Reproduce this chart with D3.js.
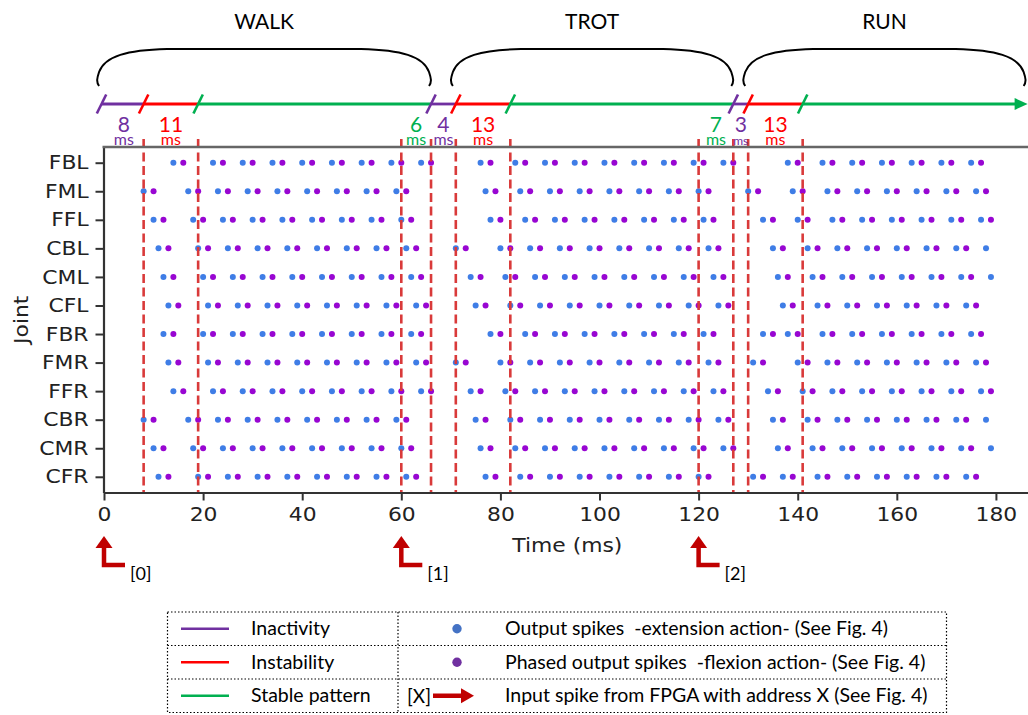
<!DOCTYPE html>
<html>
<head>
<meta charset="utf-8">
<script src="https://cdn.jsdelivr.net/npm/d3@7"></script>
<style>
  body { margin: 0; background: #fff; }
  svg text { font-family: "DejaVu Sans", sans-serif; }
  .note { font-family: Lato, "Liberation Sans", sans-serif; white-space: pre; }
</style>
</head>
<body>
<div id="chart"></div>
<script>
// joints, top row first
var joints = ["FBL", "FML", "FFL", "CBL", "CML", "CFL", "FBR", "FMR", "FFR", "CBR", "CMR", "CFR"]

// output spike times (ms), one list per joint, same order as joints
var extensionSpikes = [
  [14,22,28,34,40,46,52,58,64,76,83,89,95,101,107,113,119,125,138,145,151,157,163,169,175],
  [8,17,23,29,35,41,47,53,59,77,84,90,96,102,108,114,120,130,139,146,152,158,164,170,176],
  [10,18,24,30,36,42,48,54,60,78,85,91,97,103,109,115,121,133,140,147,153,159,165,171,177],
  [11,19,25,31,37,43,49,55,61,71,80,86,92,98,104,110,116,122,135,142,148,154,160,166,172,178],
  [12,20,26,32,38,44,50,56,62,74,81,87,93,99,105,111,117,123,136,143,149,155,161,167,173,179],
  [13,21,27,33,39,45,51,57,63,75,82,88,94,100,106,112,118,124,137,144,150,156,162,168,174],
  [12,20,26,32,38,44,50,56,62,78,85,91,97,103,109,115,121,133,138,145,151,157,163,169,175],
  [13,21,27,33,39,45,51,57,63,71,80,86,92,98,104,110,116,122,131,140,146,152,158,164,170,176],
  [14,22,28,34,40,46,52,58,64,74,81,87,93,99,105,111,117,123,134,141,147,153,159,165,171,177],
  [8,17,23,29,35,41,47,53,59,75,82,88,94,100,106,112,118,124,135,142,148,154,160,166,172,178],
  [10,18,24,30,36,42,48,54,60,76,83,89,95,101,107,113,119,125,136,143,149,155,161,167,173,179],
  [11,19,25,31,37,43,49,55,61,77,84,90,96,102,108,114,120,131,137,144,150,156,162,168,174]
]
var flexionSpikes = [
  [16,24,30,36,42,48,54,60,66,78,85,91,97,103,109,115,121,127,140,147,153,159,165,171,177],
  [10,19,25,31,37,43,49,55,61,79,86,92,98,104,110,116,122,132,141,148,154,160,166,172,178],
  [12,20,26,32,38,44,50,56,62,80,87,93,99,105,111,117,123,135,142,149,155,161,167,173,179],
  [13,21,27,33,39,45,51,57,63,73,82,88,94,100,106,112,118,124,137,144,150,156,162,168,174],
  [14,22,28,34,40,46,52,58,64,76,83,89,95,101,107,113,119,125,138,145,151,157,163,169,175],
  [15,23,29,35,41,47,53,59,65,77,84,90,96,102,108,114,120,126,139,146,152,158,164,170,176],
  [14,22,28,34,40,46,52,58,64,80,87,93,99,105,111,117,123,135,140,147,153,159,165,171,177],
  [15,23,29,35,41,47,53,59,65,73,82,88,94,100,106,112,118,124,133,142,148,154,160,166,172,178],
  [16,24,30,36,42,48,54,60,66,76,83,89,95,101,107,113,119,125,136,143,149,155,161,167,173,179],
  [10,19,25,31,37,43,49,55,61,77,84,90,96,102,108,114,120,126,137,144,150,156,162,168,174],
  [12,20,26,32,38,44,50,56,62,78,85,91,97,103,109,115,121,127,138,145,151,157,163,169,175],
  [13,21,27,33,39,45,51,57,63,79,86,92,98,104,110,116,122,133,139,146,152,158,164,170,176]
]

// phase boundaries (dashed lines), ms
var phaseBounds = [8, 19, 60, 66, 71, 82, 120, 127, 130, 141]

// coloured timeline above the plot
var timelineStarts = [-0.5, 8, 19, 66, 71, 82, 127, 130, 141]
var timelineEnds   = [8, 19, 66, 71, 82, 127, 130, 141, 186.4]
var timelineKinds  = ["inactivity", "instability", "stable", "inactivity", "instability", "stable", "inactivity", "instability", "stable"]

// duration labels under the timeline
var durationFrom   = [0, 8, 60, 66, 71, 120, 127, 130]
var durationTo     = [8, 19, 66, 71, 82, 127, 130, 141]
var durationLabels = ["8", "11", "6", "4", "13", "7", "3", "13"]
var durationKinds  = ["inactivity", "instability", "stable", "inactivity", "instability", "stable", "inactivity", "instability"]

var gaits     = ["WALK", "TROT", "RUN"]
var gaitFrom  = [-1.4, 70, 129]
var gaitTo    = [66, 127, 186]

var inputTimes  = [0, 60, 120]
var inputLabels = ["[0]", "[1]", "[2]"]

var xTicks = [0, 20, 40, 60, 80, 100, 120, 140, 160, 180]

var legendStates = ["Inactivity", "Instability", "Stable pattern"]
var legendMarks  = ["Output spikes  -extension action- (See Fig. 4)",
                    "Phased output spikes  -flexion action- (See Fig. 4)",
                    "Input spike from FPGA with address X (See Fig. 4)"]

var kindColor = { inactivity: "#7030a0", instability: "#ff0000", stable: "#00b050" }
var extColor = "#3f7de6", flexColor = "#9806d2"

var width = 1028, height = 715
var plotTop = 147, plotBottom = 492.5, plotLeft = 103.5
var stretch = "scale(1.15,1)"  // axis lettering in the figure is a bit wide

var svg = d3.select("#chart").append("svg")
  .attr("width", width)
  .attr("height", height)

svg.append("rect").attr("width", width).attr("height", height).attr("fill", "#fff")

var x = d3.scaleLinear().domain([0, 187]).range([104, 1030.6])
var y = d3.scaleLinear().domain([-0.55, 11.55]).range([plotTop, plotBottom])

// spikes
var rows = svg.append("g").selectAll("g")
  .data(joints)
  .enter().append("g")

rows.selectAll("circle.ext")
  .data(function(d, i) { return extensionSpikes[i].map(function(t) { return { t: t, i: i } }) })
  .enter().append("circle")
    .attr("class", "ext")
    .attr("cx", function(d) { return x(d.t) })
    .attr("cy", function(d) { return y(d.i) })
    .attr("r", 3)
    .attr("fill", extColor)

rows.selectAll("circle.flex")
  .data(function(d, i) { return flexionSpikes[i].map(function(t) { return { t: t, i: i } }) })
  .enter().append("circle")
    .attr("class", "flex")
    .attr("cx", function(d) { return x(d.t) })
    .attr("cy", function(d) { return y(d.i) })
    .attr("r", 3)
    .attr("fill", flexColor)

// phase boundaries
svg.append("g").selectAll("line")
  .data(phaseBounds)
  .enter().append("line")
    .attr("x1", function(d) { return x(d) })
    .attr("x2", function(d) { return x(d) })
    .attr("y1", 139)
    .attr("y2", plotBottom)
    .attr("stroke", "#d93a3a")
    .attr("stroke-width", 2.6)
    .attr("stroke-dasharray", "9,4.5")

// axes
var xAxis = svg.append("g")
  .attr("transform", "translate(0," + plotBottom + ")")
  .call(d3.axisBottom(x).tickValues(xTicks).tickSize(8).tickSizeOuter(0).tickPadding(7))
xAxis.select(".domain").attr("stroke", "#333").attr("stroke-width", 2.2)
xAxis.selectAll(".tick line").attr("stroke", "#333").attr("stroke-width", 2)
xAxis.selectAll(".tick text").attr("font-size", 19).attr("fill", "#222")
  .attr("font-family", "DejaVu Sans").attr("transform", stretch)

var yAxis = svg.append("g")
  .attr("transform", "translate(" + plotLeft + ",0)")
  .call(d3.axisLeft(y).tickValues(d3.range(joints.length))
    .tickFormat(function(i) { return joints[i] }).tickSize(8).tickSizeOuter(0).tickPadding(5))
yAxis.select(".domain").attr("stroke", "#333").attr("stroke-width", 2.2)
yAxis.selectAll(".tick line").attr("stroke", "#333").attr("stroke-width", 2)
yAxis.selectAll(".tick text").attr("font-size", 19).attr("fill", "#222")
  .attr("font-family", "DejaVu Sans").attr("transform", stretch)

// top spine
svg.append("line")
  .attr("x1", plotLeft - 1).attr("x2", width)
  .attr("y1", plotTop).attr("y2", plotTop)
  .attr("stroke", "#666").attr("stroke-width", 2.6)

svg.append("text")
  .attr("transform", "translate(" + x(93.5) + ",552) " + stretch)
  .attr("text-anchor", "middle")
  .attr("font-size", 19).attr("fill", "#222")
  .text("Time (ms)")

svg.append("text")
  .attr("transform", "translate(28," + ((plotTop + plotBottom) / 2) + ") rotate(-90) " + stretch)
  .attr("text-anchor", "middle")
  .attr("font-size", 19).attr("fill", "#222")
  .text("Joint")

// timeline
var tlY = 104
var timeline = svg.append("g")
timeline.selectAll("line.seg")
  .data(timelineKinds)
  .enter().append("line")
    .attr("class", "seg")
    .attr("x1", function(d, i) { return x(timelineStarts[i]) })
    .attr("x2", function(d, i) { return i == timelineKinds.length - 1 ? x(timelineEnds[i]) - 10 : x(timelineEnds[i]) })
    .attr("y1", tlY).attr("y2", tlY)
    .attr("stroke", function(d) { return kindColor[d] })
    .attr("stroke-width", 2.8)
timeline.selectAll("line.slash")
  .data(timelineKinds)
  .enter().append("line")
    .attr("class", "slash")
    .attr("x1", function(d, i) { return x(timelineStarts[i]) - 4.7 })
    .attr("x2", function(d, i) { return x(timelineStarts[i]) + 4.7 })
    .attr("y1", tlY + 9.5).attr("y2", tlY - 9.5)
    .attr("stroke", function(d) { return kindColor[d] })
    .attr("stroke-width", 2.6)
var tipX = x(timelineEnds[timelineEnds.length - 1])
timeline.append("path")
  .attr("d", "M" + tipX + "," + tlY + "L" + (tipX - 13) + "," + (tlY - 6) + "L" + (tipX - 13) + "," + (tlY + 6) + "Z")
  .attr("fill", kindColor.stable)

// duration number with "ms" underneath, one text element each
var durations = svg.append("g").selectAll("text")
  .data(durationLabels)
  .enter().append("text")
    .attr("class", "note")
    .attr("transform", function(d, i) { return "translate(" + x((durationFrom[i] + durationTo[i]) / 2) + ",0)" })
    .attr("fill", function(d, i) { return kindColor[durationKinds[i]] })
    .attr("text-anchor", "middle")
durations.append("tspan")
  .attr("x", 0).attr("y", 132)
  .attr("font-size", 21)
  .text(function(d) { return d })
durations.append("tspan")
  .attr("x", 0).attr("y", 144.5)
  .attr("font-size", function(d, i) { return durationTo[i] - durationFrom[i] < 4 ? 12 : 16 })
  .text("ms")

// gait braces
var braces = svg.append("g").selectAll("g")
  .data(gaits)
  .enter().append("g")
braces.append("path")
  .attr("d", function(d, i) {
    var a = x(gaitFrom[i]), b = x(gaitTo[i])
    return "M" + (a + 2) + ",86 C" + (a - 1) + ",82 " + a + ",78 " + (a + 2) + ",72" +
      " C" + (a + 8) + ",56 " + (a + 30) + ",50 " + (a + 70) + ",49" +
      " L" + (b - 70) + ",49 C" + (b - 30) + ",50 " + (b - 8) + ",56 " + (b - 2) + ",72" +
      " C" + b + ",78 " + (b + 1) + ",82 " + (b - 2) + ",86"
  })
  .attr("fill", "none")
  .attr("stroke", "#000")
  .attr("stroke-width", 2)
braces.append("text")
  .attr("class", "note")
  .attr("x", function(d, i) { return x((gaitFrom[i] + gaitTo[i]) / 2) })
  .attr("y", 29)
  .attr("text-anchor", "middle")
  .attr("font-size", 21)
  .text(function(d) { return d })

// input spikes
var inputs = svg.append("g").selectAll("g")
  .data(inputTimes)
  .enter().append("g")
    .attr("transform", function(d) { return "translate(" + x(d) + ",0)" })
inputs.append("path")
  .attr("d", "M21,565 H0 V546")
  .attr("fill", "none")
  .attr("stroke", "#c00000")
  .attr("stroke-width", 4.5)
inputs.append("path")
  .attr("d", "M0,536 L-8.5,548 L8.5,548 Z")
  .attr("fill", "#c00000")
inputs.append("text")
  .attr("class", "note")
  .attr("x", 26).attr("y", 580)
  .attr("font-size", 18)
  .text(function(d, i) { return inputLabels[i] })

// legend table
var lg = svg.append("g")
var lx0 = 167.5, lx1 = 946.5, lxMid = 398, ly = [612, 645.5, 679, 712.5]
var dotted = function(sel) {
  return sel.attr("stroke", "#000").attr("stroke-width", 1.2).attr("stroke-dasharray", "1.5,2").attr("fill", "none")
}
lg.append("rect")
  .attr("x", lx0).attr("y", ly[0]).attr("width", lx1 - lx0).attr("height", ly[3] - ly[0])
  .call(dotted)
lg.selectAll("line.row")
  .data([ly[1], ly[2]])
  .enter().append("line")
    .attr("x1", lx0).attr("x2", lx1).attr("y1", function(d) { return d }).attr("y2", function(d) { return d })
    .call(dotted)
lg.append("line")
  .attr("x1", lxMid).attr("x2", lxMid).attr("y1", ly[0]).attr("y2", ly[3])
  .call(dotted)

var stateKinds = ["inactivity", "instability", "stable"]
legendStates.forEach(function(label, i) {
  var cy = (ly[i] + ly[i + 1]) / 2
  lg.append("line")
    .attr("x1", 181).attr("x2", 229).attr("y1", cy).attr("y2", cy)
    .attr("stroke", kindColor[stateKinds[i]]).attr("stroke-width", 2.5)
  lg.append("text").attr("class", "note")
    .attr("x", 251).attr("y", cy + 6.5).attr("font-size", 19.5)
    .text(label)
  lg.append("text").attr("class", "note")
    .attr("x", 505).attr("y", cy + 6.5).attr("font-size", 19.5)
    .text(legendMarks[i])
})
lg.append("circle").attr("cx", 457).attr("cy", (ly[0] + ly[1]) / 2).attr("r", 4.7).attr("fill", "#4472c4")
lg.append("circle").attr("cx", 457).attr("cy", (ly[1] + ly[2]) / 2).attr("r", 4.7).attr("fill", "#7030a0")
var ay = (ly[2] + ly[3]) / 2
lg.append("text").attr("class", "note")
  .attr("x", 407).attr("y", ay + 7.5).attr("font-size", 19).text("[X]")
lg.append("line")
  .attr("x1", 433).attr("x2", 463).attr("y1", ay).attr("y2", ay)
  .attr("stroke", "#c00000").attr("stroke-width", 4.5)
lg.append("path")
  .attr("d", "M474," + ay + " L461," + (ay - 7.5) + " L461," + (ay + 7.5) + " Z")
  .attr("fill", "#c00000")
</script>
</body>
</html>
